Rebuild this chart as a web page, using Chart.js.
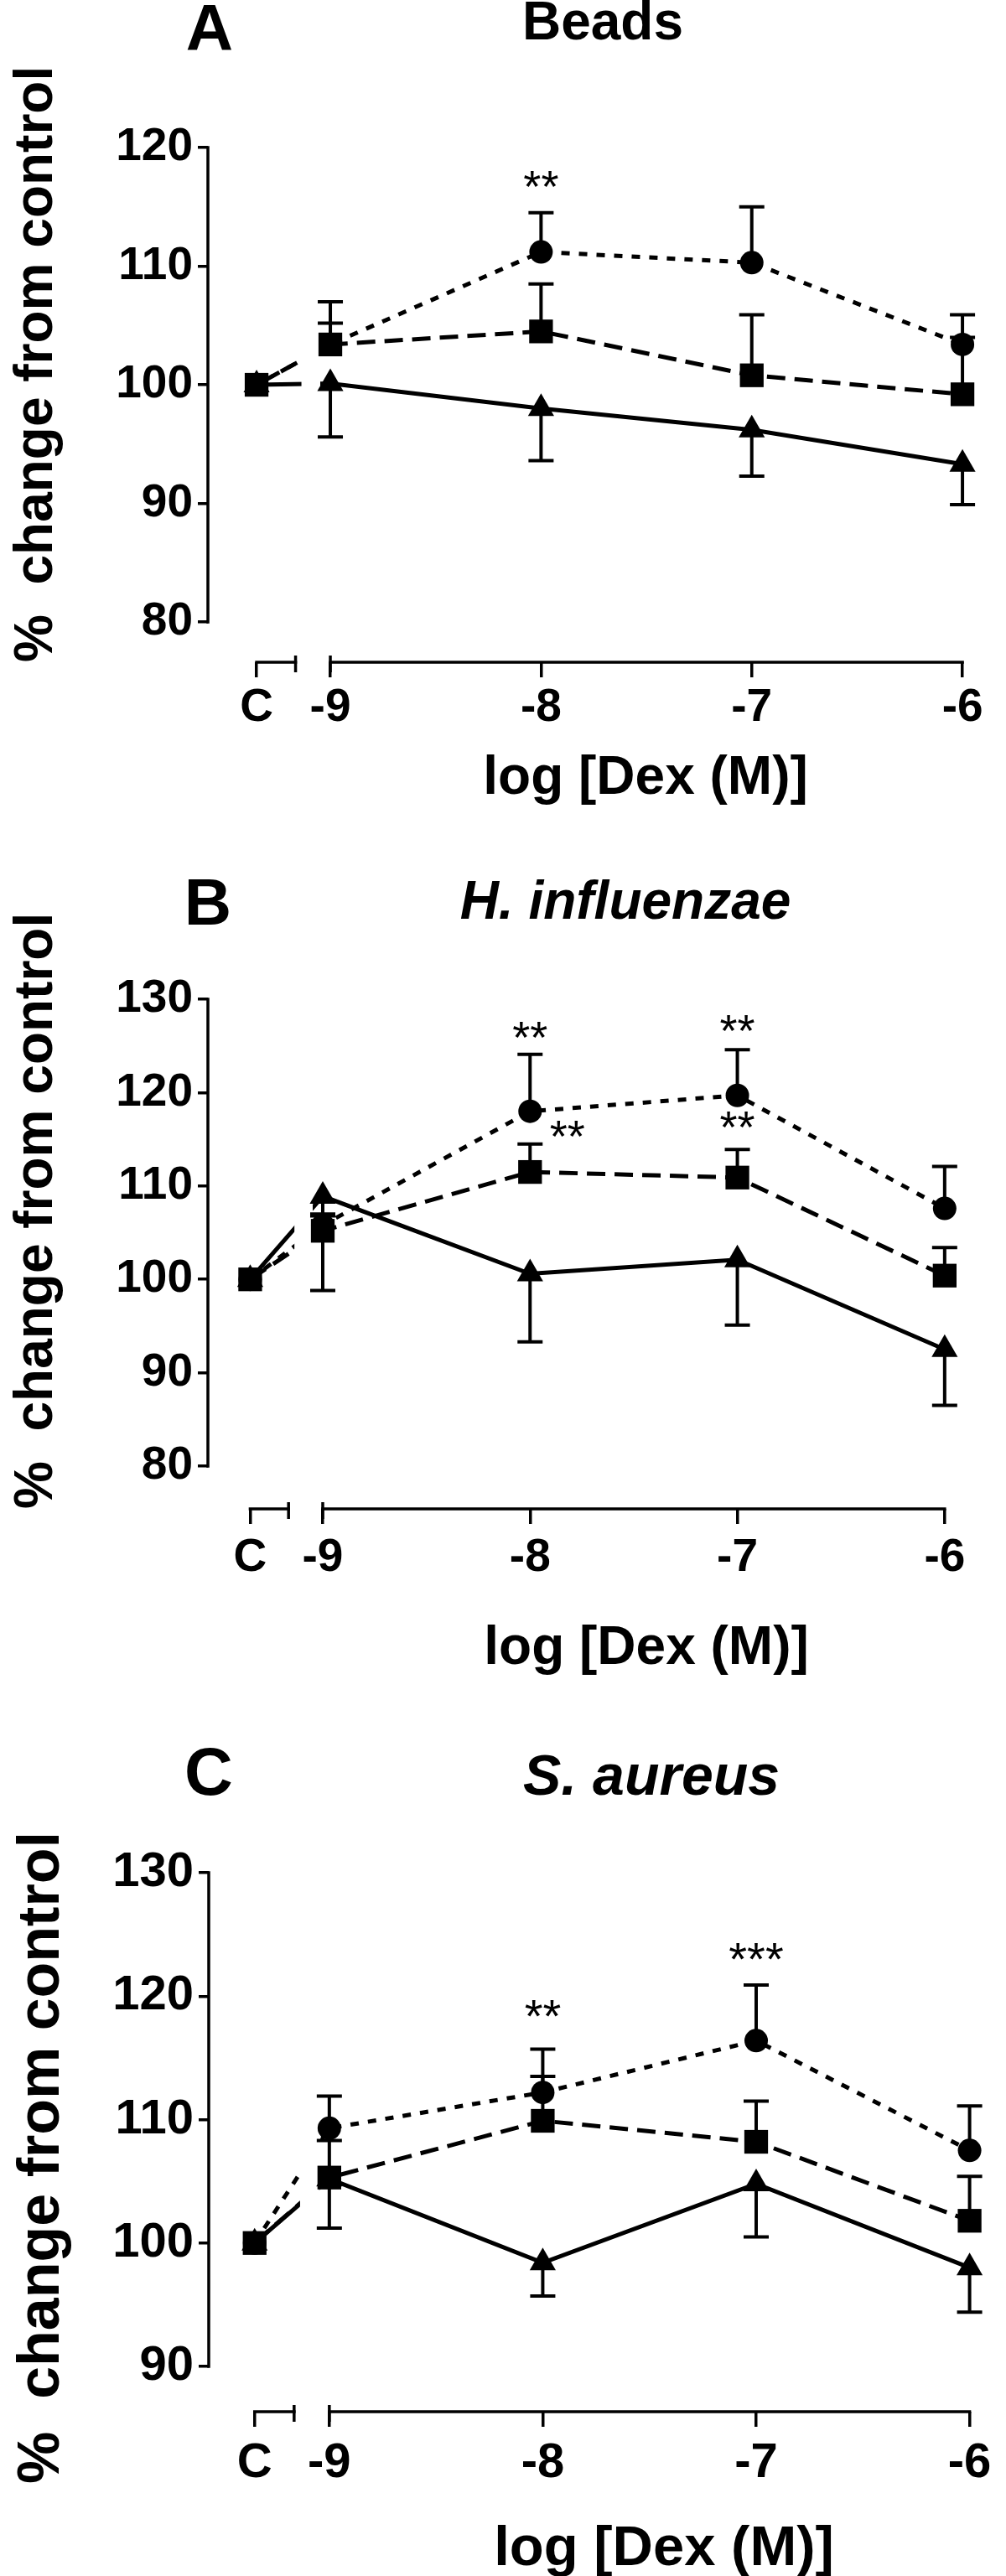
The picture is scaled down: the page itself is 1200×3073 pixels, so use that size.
<!DOCTYPE html>
<html>
<head>
<meta charset="utf-8">
<title>Dex dose response</title>
<script src="https://cdn.jsdelivr.net/npm/chart.js@4.4.1/dist/chart.umd.min.js"></script>
<style>
  html, body { margin: 0; padding: 0; background: #fff; }
  #fig { position: relative; width: 1200px; height: 3073px; }
  #fig canvas { position: absolute; left: 0; }
</style>
</head>
<body>
<div id="fig">
  <canvas id="panelA" width="1200" height="1000" style="top:0px"></canvas>
  <canvas id="panelB" width="1200" height="1000" style="top:1000px"></canvas>
  <canvas id="panelC" width="1200" height="1073" style="top:2000px"></canvas>
</div>
<script>
// x axis: control + log[Dex] doses (broken axis)
const xTickValues = [-9.35, -9, -8, -7, -6];
const xTickLabels = ['C', '-9', '-8', '-7', '-6'];
const xBreak = [-9.165, -9]; // end of control piece, start of dose piece

// A - Beads
const beadsTicks = [80, 90, 100, 110, 120];
const beadsCircle = [100, 103.4, 111.2, 110.3, 103.4];
const beadsCircleSem = [0, 3.6, 3.3, 4.7, 2.5];
const beadsSquare = [100, 103.4, 104.5, 100.8, 99.2];
const beadsSquareSem = [0, 1.8, 4.0, 5.1, 4.8];
const beadsTriangle = [100, 100.1, 98.0, 96.2, 93.3];
const beadsTriangleSem = [0, 4.5, 4.4, 3.9, 3.4];
const beadsStarX = [-8];
const beadsStarY = [117.6];
const beadsStarText = ['**'];

// B - H. influenzae
const hinfTicks = [80, 90, 100, 110, 120, 130];
const hinfCircle = [100, 105.8, 118.0, 119.7, 107.6];
const hinfCircleSem = [0, 1.2, 6.1, 4.9, 4.5];
const hinfSquare = [100, 105.2, 111.5, 110.9, 100.4];
const hinfSquareSem = [0, 1.6, 3.0, 3.0, 3.0];
const hinfTriangle = [100, 108.9, 100.6, 102.1, 92.5];
const hinfTriangleSem = [0, 10.1, 7.3, 7.0, 6.0];
const hinfStarX = [-8, -7.82, -7, -7];
const hinfStarY = [127.0, 116.4, 127.7, 117.4];
const hinfStarText = ['**', '**', '**', '**'];

// C - S. aureus
const saurTicks = [90, 100, 110, 120, 130];
const saurCircle = [100, 109.3, 112.2, 116.4, 107.5];
const saurCircleSem = [0, 2.6, 3.5, 4.5, 3.6];
const saurSquare = [100, 105.3, 109.9, 108.2, 101.8];
const saurSquareSem = [0, 3.0, 3.6, 3.3, 3.6];
const saurTriangle = [100, 105.2, 98.4, 104.8, 98.0];
const saurTriangleSem = [0, 4.0, 2.7, 4.3, 3.6];
const saurStarX = [-8, -7];
const saurStarY = [119.3, 123.9];
const saurStarText = ['**', '***'];

const FONT = '"Liberation Sans", Arial, Helvetica, sans-serif';
Chart.defaults.font.family = FONT;
Chart.defaults.color = '#000';

function seriesDefs(circ, circSem, sq, sqSem, tri, triSem) {
  return [
    { name: 'circle', values: circ, sem: circSem, marker: 'circle', radius: 14, dash: [10, 11], dir: 1, order: 2 },
    { name: 'square', values: sq, sem: sqSem, marker: 'rect', radius: 20, dash: [22, 11], dir: 1, order: 0 },
    { name: 'triangle', values: tri, sem: triSem, marker: 'triangle', radius: 18, dash: [], dir: -1, order: 1 },
  ];
}

// draws the broken axes, error bars and the panel texts
function makeParts(p) {
  return {
    id: 'figureParts',
    beforeDatasetsDraw(chart) {
      const { ctx, chartArea } = chart;
      const xs = chart.scales.x, ys = chart.scales.y;
      ctx.save();
      ctx.strokeStyle = '#000';
      ctx.lineCap = 'butt';
      ctx.lineWidth = 3.5;
      // y axis only between first and last tick
      ctx.beginPath();
      ctx.moveTo(chartArea.left, ys.getPixelForValue(p.yTicks[0]) + 1.75);
      ctx.lineTo(chartArea.left, ys.getPixelForValue(p.yTicks[p.yTicks.length - 1]) - 1.75);
      ctx.stroke();
      // broken x axis
      const by = chartArea.bottom;
      const pieces = [[xTickValues[0], xBreak[0]], [xBreak[1], xTickValues[xTickValues.length - 1]]];
      pieces.forEach(([a, b]) => {
        ctx.beginPath();
        ctx.moveTo(xs.getPixelForValue(a) - 1.75, by);
        ctx.lineTo(xs.getPixelForValue(b) + 1.75, by);
        ctx.stroke();
      });
      xBreak.forEach(v => {
        const px = xs.getPixelForValue(v);
        ctx.beginPath();
        ctx.moveTo(px, by - 8);
        ctx.lineTo(px, by + 12);
        ctx.stroke();
      });
      // one-sided error bars
      ctx.lineWidth = 4;
      chart.data.datasets.forEach(ds => {
        if (!ds.errors) return;
        ds.data.forEach((pt, j) => {
          const e = ds.errors[j];
          if (!e) return;
          const px = xs.getPixelForValue(pt.x);
          const p0 = ys.getPixelForValue(pt.y);
          const p1 = ys.getPixelForValue(pt.y + ds.errDir * e);
          ctx.beginPath();
          ctx.moveTo(px, p0);
          ctx.lineTo(px, p1);
          ctx.moveTo(px - 15, p1);
          ctx.lineTo(px + 15, p1);
          ctx.stroke();
        });
      });
      ctx.restore();
    },
    beforeDatasetDraw(chart, args) {
      const ds = chart.data.datasets[args.index];
      if (!ds.brokenLine) return;
      const xs = chart.scales.x;
      const g0 = xs.getPixelForValue(xBreak[0]) + 7;
      const g1 = xs.getPixelForValue(xBreak[1]) - 12;
      const ctx = chart.ctx;
      ctx.save();
      ctx.beginPath();
      ctx.rect(0, 0, g0, chart.height);
      ctx.rect(g1, 0, chart.width - g1, chart.height);
      ctx.clip();
    },
    afterDatasetDraw(chart, args) {
      if (chart.data.datasets[args.index].brokenLine) chart.ctx.restore();
    },
    afterDraw(chart) {
      const ctx = chart.ctx;
      const xs = chart.scales.x, ys = chart.scales.y;
      ctx.save();
      ctx.fillStyle = '#000';
      ctx.textBaseline = 'alphabetic';
      ctx.textAlign = 'center';
      ctx.font = `bold ${p.letterSize}px ${FONT}`;
      ctx.fillText(p.letter, p.letterX, p.letterY);
      ctx.font = `${p.titleItalic ? 'italic ' : ''}bold ${p.titleSize}px ${FONT}`;
      ctx.fillText(p.title, p.titleX, p.titleY);
      ctx.font = `bold ${p.xTitleSize}px ${FONT}`;
      ctx.fillText('log [Dex (M)]', p.xTitleX, p.xTitleY);
      // significance stars
      ctx.font = `${p.starSize}px ${FONT}`;
      p.starX.forEach((sx, i) => {
        ctx.fillText(p.starText[i], xs.getPixelForValue(sx), ys.getPixelForValue(p.starY[i]) + 0.57 * p.starSize);
      });
      // y axis title
      ctx.translate(p.yTitleX, p.yTitleY);
      ctx.rotate(-Math.PI / 2);
      ctx.textAlign = 'left';
      ctx.font = `bold ${p.yTitleSize}px ${FONT}`;
      ctx.fillText('%  change from control', 0, 0);
      ctx.restore();
    }
  };
}

function buildChart(p) {
  const datasets = [];
  p.series.forEach(s => {
    datasets.push({
      label: s.name + ' line',
      data: s.values.map((v, i) => ({ x: xTickValues[i], y: v })),
      borderColor: '#000',
      borderWidth: 5,
      borderDash: s.dash,
      borderCapStyle: 'butt',
      pointRadius: 0,
      pointHoverRadius: 0,
      fill: false,
      tension: 0,
      clip: false,
      brokenLine: true,
      order: 10,
    });
    datasets.push({
      label: s.name,
      data: s.values.map((v, i) => ({ x: xTickValues[i], y: v })),
      showLine: false,
      pointStyle: s.marker,
      pointRadius: s.radius,
      pointHoverRadius: s.radius,
      pointBackgroundColor: '#000',
      pointBorderColor: '#000',
      pointBorderWidth: 0,
      clip: false,
      errors: s.sem,
      errDir: s.dir,
      order: s.order,
    });
  });

  return new Chart(document.getElementById(p.id), {
    type: 'line',
    data: { datasets },
    options: {
      responsive: false,
      animation: false,
      events: [],
      layout: { padding: { left: 0, top: p.padTop, right: p.padRight, bottom: 0 } },
      plugins: { legend: { display: false }, tooltip: { enabled: false }, title: { display: false } },
      scales: {
        x: {
          type: 'linear',
          min: p.xMin,
          max: p.xMax,
          afterBuildTicks: sc => { sc.ticks = xTickValues.map(v => ({ value: v })); },
          afterFit: sc => { sc.height = p.xAxisHeight; },
          border: { display: false },
          grid: { drawOnChartArea: false, drawTicks: true, tickLength: 18, lineWidth: 3.5, color: '#000' },
          ticks: {
            autoSkip: false,
            maxRotation: 0,
            padding: p.xTickPad,
            color: '#000',
            font: { size: p.tickSize, weight: 'bold' },
            callback: (v, i) => xTickLabels[i],
          },
        },
        y: {
          type: 'linear',
          min: p.yMin,
          max: p.yMax,
          afterBuildTicks: sc => { sc.ticks = p.yTicks.map(v => ({ value: v })); },
          afterFit: sc => { sc.width = p.yAxisWidth; },
          border: { display: false },
          grid: { drawOnChartArea: false, drawTicks: true, tickLength: 12, lineWidth: 3.5, color: '#000' },
          ticks: { padding: 6, color: '#000', font: { size: p.tickSize, weight: 'bold' } },
        },
      },
    },
    plugins: [makeParts(p)],
  });
}

buildChart({
  id: 'panelA',
  series: seriesDefs(beadsCircle, beadsCircleSem, beadsSquare, beadsSquareSem, beadsTriangle, beadsTriangleSem),
  yTicks: beadsTicks, yMin: 76.61, yMax: 126.08,
  xMin: -9.581, xMax: -5.873,
  padTop: 90, padRight: 20, yAxisWidth: 248, xAxisHeight: 210,
  tickSize: 55, xTickPad: 4,
  letter: 'A', letterSize: 78, letterX: 250, letterY: 60,
  title: 'Beads', titleItalic: false, titleSize: 64, titleX: 719, titleY: 47,
  xTitleSize: 64, xTitleX: 770, xTitleY: 947,
  yTitleSize: 64, yTitleX: 62, yTitleY: 790,
  starSize: 54, starX: beadsStarX, starY: beadsStarY, starText: beadsStarText,
});

buildChart({
  id: 'panelB',
  series: seriesDefs(hinfCircle, hinfCircleSem, hinfSquare, hinfSquareSem, hinfTriangle, hinfTriangleSem),
  yTicks: hinfTicks, yMin: 75.42, yMax: 138.26,
  xMin: -9.554, xMax: -5.785,
  padTop: 100, padRight: 20, yAxisWidth: 248, xAxisHeight: 200,
  tickSize: 55, xTickPad: 8,
  letter: 'B', letterSize: 78, letterX: 248, letterY: 103,
  title: 'H. influenzae', titleItalic: true, titleSize: 64, titleX: 746, titleY: 96,
  xTitleSize: 64, xTitleX: 771, xTitleY: 985,
  yTitleSize: 64, yTitleX: 62, yTitleY: 800,
  starSize: 54, starX: hinfStarX, starY: hinfStarY, starText: hinfStarText,
});

buildChart({
  id: 'panelC',
  series: seriesDefs(saurCircle, saurCircleSem, saurSquare, saurSquareSem, saurTriangle, saurTriangleSem),
  yTicks: saurTicks, yMin: 86.33, yMax: 135.71,
  xMin: -9.565, xMax: -5.908,
  padTop: 150, padRight: 0, yAxisWidth: 249, xAxisHeight: 196,
  tickSize: 58, xTickPad: 9,
  letter: 'C', letterSize: 80, letterX: 249, letterY: 141,
  title: 'S. aureus', titleItalic: true, titleSize: 68, titleX: 777, titleY: 141,
  xTitleSize: 67, xTitleX: 792, xTitleY: 1060,
  yTitleSize: 70, yTitleX: 70, yTitleY: 963,
  starSize: 56, starX: saurStarX, starY: saurStarY, starText: saurStarText,
});
</script>
</body>
</html>
